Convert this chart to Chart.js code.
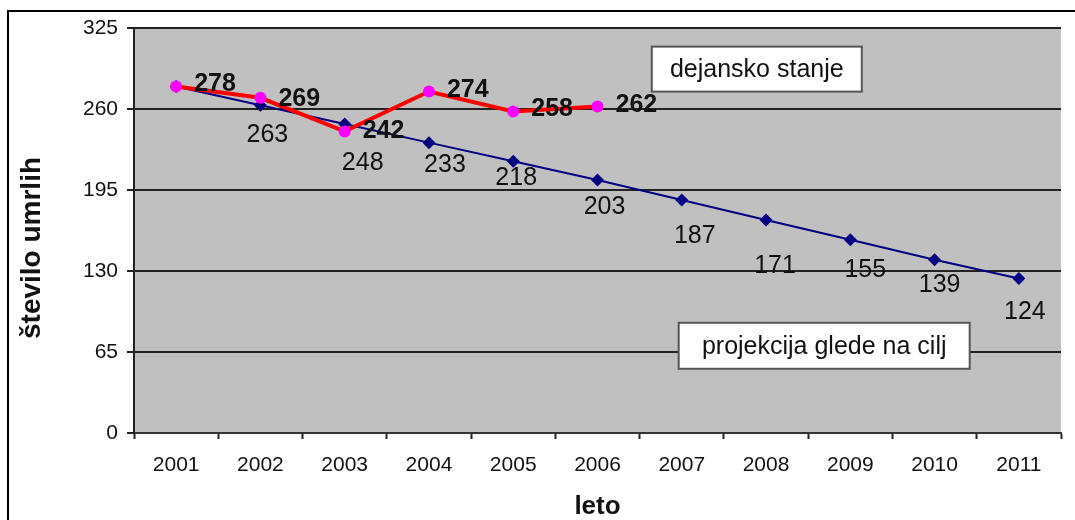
<!DOCTYPE html>
<html>
<head>
<meta charset="utf-8">
<script src="https://cdn.jsdelivr.net/npm/chart.js@4.4.1/dist/chart.umd.min.js"></script>
<style>
    html, body { margin: 0; padding: 0; background: #fff; }
    canvas { display: block; }
</style>
</head>
<body>
<canvas id="deathsChart" width="1075" height="520"></canvas>
<script>
const years = ['2001', '2002', '2003', '2004', '2005', '2006', '2007', '2008', '2009', '2010', '2011'];
const projection = [278, 263, 248, 233, 218, 203, 187, 171, 155, 139, 124];
const actual = [278, 269, 242, 274, 258, 262];
const yTicks = [0, 65, 130, 195, 260, 325];

const actualName = 'dejansko stanje';
const projectionName = 'projekcija glede na cilj';
const xTitle = 'leto';
const yTitle = 'število umrlih';

// nudges of the value labels (px from the point)
const projLabelShift = [null, [7, 30], [18, 39], [16, 22], [3, 17], [7, 27], [13, 36], [9, 46], [15, 30], [5, 25], [6, 34]];
const actualLabelShift = [[18, -2], [18, 1], [18, 0], [18, -1], [18, -2], [18, -1]];

const FONT = '"Liberation Sans", Arial, sans-serif';
Chart.defaults.font.family = FONT;

const chartDeco = {
    id: 'chartDeco',
    beforeDraw(chart) {
        const { ctx, chartArea: a } = chart;
        ctx.save();
        ctx.fillStyle = '#fff';
        ctx.fillRect(0, 0, chart.width, chart.height);
        ctx.strokeStyle = '#000';
        ctx.lineWidth = 2;
        ctx.strokeRect(8, 11, chart.width + 20, chart.height + 20);
        ctx.fillStyle = '#c0c0c0';
        ctx.fillRect(a.left, a.top, a.right - a.left, a.bottom - a.top);
        ctx.restore();
    },
    afterDatasetsDraw(chart) {
        const { ctx } = chart;
        const xs = chart.scales.x, ys = chart.scales.y;
        ctx.save();

        // projection labels, below the points
        const projMeta = chart.getDatasetMeta(1);
        ctx.font = '25px ' + FONT;
        ctx.fillStyle = '#111';
        ctx.textAlign = 'center';
        ctx.textBaseline = 'middle';
        projMeta.data.forEach((pt, i) => {
            const s = projLabelShift[i];
            if (!s) return;
            ctx.fillText(String(projection[i]), pt.x + s[0], pt.y + s[1]);
        });

        // actual labels, bold, right of the points
        const actMeta = chart.getDatasetMeta(0);
        ctx.font = 'bold 25px ' + FONT;
        ctx.textAlign = 'left';
        actMeta.data.forEach((pt, i) => {
            const s = actualLabelShift[i];
            ctx.fillText(String(actual[i]), pt.x + s[0], pt.y + s[1]);
        });

        // series name boxes
        const boxes = [
            { text: actualName, at: 6.89, val: 292, w: 210, h: 45 },
            { text: projectionName, at: 7.69, val: 70, w: 291, h: 46 }
        ];
        ctx.font = '25px ' + FONT;
        ctx.textAlign = 'center';
        boxes.forEach(b => {
            const cx = xs.getPixelForValue(b.at);
            const cy = ys.getPixelForValue(b.val);
            ctx.fillStyle = '#fff';
            ctx.fillRect(cx - b.w / 2, cy - b.h / 2, b.w, b.h);
            ctx.strokeStyle = '#555';
            ctx.lineWidth = 2;
            ctx.strokeRect(cx - b.w / 2, cy - b.h / 2, b.w, b.h);
            ctx.fillStyle = '#111';
            ctx.fillText(b.text, cx, cy + 1);
        });
        ctx.restore();
    },
    afterDraw(chart) {
        const { ctx, chartArea: a } = chart;
        ctx.save();
        ctx.fillStyle = '#111';
        ctx.font = 'bold 26px ' + FONT;
        ctx.textAlign = 'center';
        ctx.textBaseline = 'alphabetic';
        ctx.fillText(xTitle, (a.left + a.right) / 2, 514);

        ctx.font = 'bold 28px ' + FONT;
        ctx.translate(40, 248);
        ctx.rotate(-Math.PI / 2);
        ctx.fillText(yTitle, 0, 0);
        ctx.restore();
    }
};

new Chart(document.getElementById('deathsChart'), {
    type: 'line',
    data: {
        labels: years,
        datasets: [
            {
                label: actualName,
                data: actual,
                borderColor: '#ff0000',
                borderWidth: 4,
                pointStyle: 'circle',
                pointRadius: 6,
                pointBackgroundColor: '#ff00ff',
                pointBorderColor: '#ff00ff',
                pointBorderWidth: 0,
                tension: 0,
                order: 0
            },
            {
                label: projectionName,
                data: projection,
                borderColor: '#000080',
                borderWidth: 2,
                pointStyle: 'rectRot',
                pointRadius: 6.5,
                pointBackgroundColor: '#000080',
                pointBorderColor: '#000080',
                pointBorderWidth: 0,
                tension: 0,
                order: 1
            }
        ]
    },
    options: {
        responsive: false,
        animation: false,
        devicePixelRatio: 1,
        layout: { padding: { left: 0, right: 14, top: 28, bottom: 0 } },
        plugins: { legend: { display: false }, tooltip: { enabled: false } },
        scales: {
            x: {
                offset: true,
                grid: { offset: true, drawOnChartArea: false, drawTicks: true, tickLength: 6, tickColor: '#222', tickWidth: 2 },
                border: { display: true, color: '#333', width: 2 },
                ticks: { color: '#111', font: { size: 21 }, padding: 14, maxRotation: 0 },
                afterFit(s) { s.height = 87; }
            },
            y: {
                min: 0,
                max: 325,
                afterBuildTicks(s) { s.ticks = yTicks.map(v => ({ value: v })); },
                grid: { color: '#222', lineWidth: 2, tickLength: 7, tickColor: '#222' },
                border: { display: true, color: '#222', width: 2 },
                ticks: { color: '#111', font: { size: 21 }, padding: 9 },
                afterFit(s) { s.width = 134; }
            }
        }
    },
    plugins: [chartDeco]
});
</script>
</body>
</html>
